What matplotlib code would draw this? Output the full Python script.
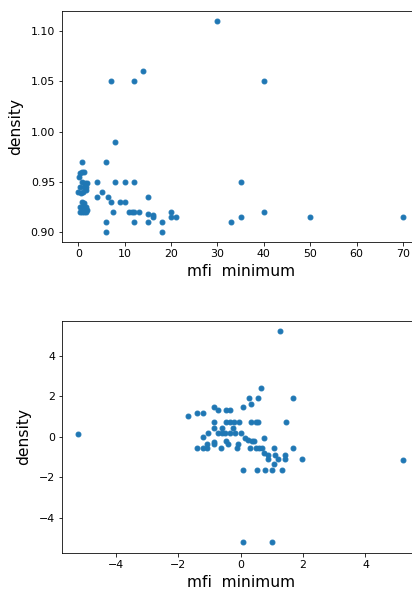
import matplotlib
matplotlib.use('Agg')
import matplotlib.pyplot as plt

# raw values
mfi_min = [30, 14, 7, 12, 40, 8, 0.7, 6,
           0.1, 0.4, 0.8, 1.3,
           0.8, 1.5, 1.9, 4, 8, 10, 12, 35,
           0.4, 1.2, 1.7,
           0, 0.6, 1.1, 1.7, 5,
           4, 6.5, 15,
           0.8, 1.2, 7, 9, 10,
           0.4, 1.1, 1.7, 1.9,
           0.3, 0.8, 1.2, 1.7, 7.5, 11, 11.5, 12, 13, 20, 40,
           15, 16, 16, 20, 21, 35, 50, 70,
           6, 12, 15, 18, 33,
           6, 18]
density = [1.11, 1.06, 1.05, 1.05, 1.05, 0.99, 0.97, 0.97,
           0.955, 0.959, 0.96, 0.96,
           0.95, 0.949, 0.949, 0.95, 0.95, 0.95, 0.95, 0.95,
           0.945, 0.945, 0.945,
           0.94, 0.939, 0.94, 0.942, 0.94,
           0.935, 0.935, 0.935,
           0.93, 0.929, 0.93, 0.93, 0.93,
           0.925, 0.925, 0.925, 0.922,
           0.92, 0.92, 0.92, 0.92, 0.92, 0.92, 0.92, 0.92, 0.92, 0.92, 0.92,
           0.918, 0.917, 0.915, 0.915, 0.915, 0.915, 0.915, 0.915,
           0.91, 0.91, 0.91, 0.91, 0.91,
           0.90, 0.90]

# scaled values
mfi_scaled = [-5.2, 1.26, 5.2, 0.07, 0.99,
              0.66, 0.27, 0.55, 1.67,
              0.08, 0.33,
              -1.7, -1.41, -1.2,
              -0.86, -0.72, -0.48, -0.34,
              -0.86, -0.48, -0.34, -0.2, -0.05, 0.33, 0.48, 0.56, 1.44,
              -0.85, -0.61, -0.24,
              -1.04, -0.72, -0.61, -0.5, -0.34, -0.18, 0.01,
              -1.2,
              0.14, 0.24, 0.35, 0.44, 0.76,
              -0.85, -0.85, -0.48, -0.4, -0.08, -1.09,
              -1.41, -1.2, -1.09, -0.63, -0.13, 0.3, 0.48, 0.59, 0.67, 1.08, 1.67,
              0.76, 0.88, 1.1, 1.19, 0.88, 1.42, 1.42, 1.08, 1.97,
              0.08, 0.54, 0.78, 1.01, 1.31]
density_scaled = [0.15, 5.2, -1.14, -5.2, -5.2,
                  2.42, 1.93, 1.93, 1.93,
                  1.47, 1.6,
                  1.0, 1.15, 1.15,
                  1.47, 1.33, 1.33, 1.33,
                  0.74, 0.74, 0.74, 0.74, 0.74, 0.74, 0.74, 0.74, 0.74,
                  0.44, 0.44, 0.44,
                  0.17, 0.17, 0.17, 0.17, 0.17, 0.17, 0.17,
                  0.0,
                  -0.08, -0.16, -0.21, -0.21, -0.08,
                  -0.28, -0.38, -0.21, -0.38, -0.38, -0.38,
                  -0.57, -0.57, -0.57, -0.57, -0.57, -0.57, -0.57, -0.57, -0.57, -0.57, -0.57,
                  -0.82, -0.9, -0.9, -1.1, -1.1, -0.9, -1.1, -1.36, -1.1,
                  -1.63, -1.63, -1.63, -1.63, -1.63]

fig = plt.figure(figsize=(412/72, 592/72), dpi=72)
ax1 = fig.add_axes([0.1507, 0.5904, 0.8667, 0.3916])
ax2 = fig.add_axes([0.1507, 0.0662, 0.8667, 0.3922])

for ax, xs, ys in [(ax1, mfi_min, density), (ax2, mfi_scaled, density_scaled)]:
    ax.scatter(xs, ys, s=24)
    ax.set_xlabel('mfi  minimum', fontsize=15.5, labelpad=5)
    ax.set_ylabel('density', fontsize=15.5, labelpad=8)
    ax.tick_params(labelsize=11)

plt.savefig('out.png', dpi=72)
